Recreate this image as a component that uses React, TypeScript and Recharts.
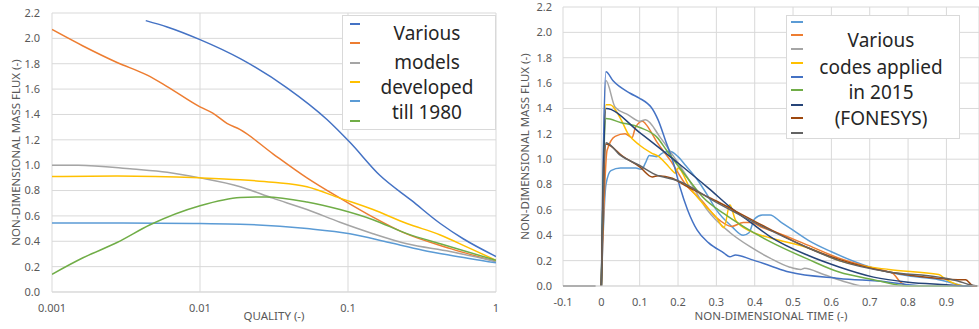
import React from 'react';
import { LineChart, Line, XAxis, YAxis, CartesianGrid, Legend } from 'recharts';

type Pt = [number, number | null];

// ---------- axis ticks ----------
const qualityTicks = [0.001, 0.01, 0.1, 1];
const fluxTicks = [0, 0.2, 0.4, 0.6, 0.8, 1.0, 1.2, 1.4, 1.6, 1.8, 2.0, 2.2];
const timeTicks = [-0.1, 0, 0.1, 0.2, 0.3, 0.4, 0.5, 0.6, 0.7, 0.8, 0.9];

// ---------- legend texts ----------
const modelLegendText = ['Various', 'models', 'developed', 'till 1980'];
const codeLegendText = ['Various', 'codes applied', 'in 2015', '(FONESYS)'];

// ---------- left chart: models developed till 1980 (x = quality) ----------
const model1: Pt[] = [[0.0043, 2.14], [0.006, 2.09], [0.01, 1.99], [0.0187, 1.84], [0.0387, 1.61], [0.0721, 1.36], [0.103, 1.18], [0.164, 0.92], [0.27, 0.72], [0.42, 0.54], [0.6, 0.42], [1, 0.28]];
const model2: Pt[] = [[0.001, 2.07], [0.00162, 1.94], [0.00275, 1.81], [0.0044, 1.71], [0.006, 1.62], [0.01, 1.46], [0.0122, 1.41], [0.0152, 1.33], [0.0187, 1.28], [0.0311, 1.09], [0.0528, 0.9], [0.0883, 0.74], [0.1475, 0.59], [0.2355, 0.47], [0.5, 0.34], [1, 0.24]];
const model3: Pt[] = [[0.001, 1.0], [0.0015, 1.0], [0.0035, 0.97], [0.006, 0.945], [0.01, 0.9], [0.0187, 0.83], [0.031, 0.74], [0.0528, 0.65], [0.0883, 0.55], [0.1475, 0.46], [0.25, 0.38], [0.489, 0.32], [1, 0.24]];
const model4: Pt[] = [[0.001, 0.91], [0.00275, 0.915], [0.01, 0.9], [0.0187, 0.885], [0.031, 0.865], [0.0528, 0.83], [0.0883, 0.74], [0.1475, 0.65], [0.25, 0.54], [0.42, 0.45], [0.65, 0.35], [1, 0.25]];
const model5: Pt[] = [[0.001, 0.545], [0.003, 0.545], [0.01, 0.54], [0.0187, 0.535], [0.0528, 0.5], [0.103, 0.46], [0.19, 0.39], [0.32, 0.33], [0.489, 0.29], [1, 0.23]];
const model6: Pt[] = [[0.001, 0.14], [0.00162, 0.27], [0.00275, 0.39], [0.0046, 0.53], [0.01, 0.68], [0.0187, 0.745], [0.028, 0.75], [0.0528, 0.71], [0.0883, 0.65], [0.1475, 0.57], [0.25, 0.46], [0.42, 0.38], [1, 0.25]];

// ---------- right chart: codes applied in 2015 (x = time) ----------
const code1: Pt[] = [[0, 0], [0.012, 0.8], [0.025, 0.91], [0.05, 0.93], [0.09, 0.93], [0.105, 0.92], [0.115, 0.97], [0.125, 1.03], [0.145, 1.02], [0.16, 1.05], [0.18, 1.06], [0.2, 1.02], [0.22, 0.95], [0.25, 0.84], [0.28, 0.7], [0.3, 0.6], [0.34, 0.47], [0.37, 0.4], [0.385, 0.42], [0.4, 0.53], [0.42, 0.56], [0.44, 0.56], [0.47, 0.5], [0.5, 0.44], [0.54, 0.36], [0.6, 0.27], [0.7, 0.15], [0.8, 0.08], [0.88, 0.05], [0.92, 0.02], [0.95, 0], [0.98, 0]];
const code2: Pt[] = [[0, 0], [0.015, 1.07], [0.036, 1.18], [0.062, 1.2], [0.08, 1.17], [0.089, 1.25], [0.107, 1.3], [0.115, 1.28], [0.146, 1.13], [0.18, 0.99], [0.22, 0.8], [0.26, 0.68], [0.3, 0.54], [0.34, 0.47], [0.37, 0.5], [0.39, 0.5], [0.42, 0.46], [0.45, 0.43], [0.54, 0.32], [0.62, 0.22], [0.71, 0.14], [0.76, 0.1], [0.78, 0.03], [0.8, 0], [0.98, 0]];
const code3: Pt[] = [[0, 0], [0.012, 1.62], [0.036, 1.41], [0.07, 1.35], [0.1, 1.3], [0.115, 1.31], [0.154, 1.17], [0.2, 0.97], [0.23, 0.83], [0.276, 0.6], [0.336, 0.42], [0.388, 0.31], [0.44, 0.22], [0.49, 0.15], [0.52, 0.13], [0.53, 0.14], [0.58, 0.09], [0.64, 0.03], [0.68, 0], [0.98, 0]];
const code4: Pt[] = [[0, 0], [0.012, 1.43], [0.023, 1.43], [0.05, 1.32], [0.07, 1.2], [0.1, 1.11], [0.13, 1.05], [0.15, 1.02], [0.17, 0.96], [0.185, 0.91], [0.193, 0.89], [0.2, 0.93], [0.23, 0.78], [0.265, 0.65], [0.3, 0.54], [0.32, 0.46], [0.335, 0.64], [0.35, 0.52], [0.39, 0.43], [0.44, 0.38], [0.54, 0.3], [0.62, 0.2], [0.75, 0.13], [0.88, 0.09], [0.9, 0.05], [0.95, 0], [0.98, 0]];
const code5: Pt[] = [[0, 0], [0.012, 1.69], [0.03, 1.62], [0.075, 1.52], [0.1, 1.48], [0.12, 1.44], [0.13, 1.41], [0.148, 1.31], [0.167, 1.15], [0.19, 0.95], [0.205, 0.78], [0.225, 0.6], [0.25, 0.44], [0.28, 0.34], [0.32, 0.26], [0.335, 0.23], [0.35, 0.245], [0.39, 0.21], [0.44, 0.16], [0.49, 0.11], [0.62, 0.06], [0.75, 0.03], [0.8, 0.01], [0.85, 0], [0.98, 0]];
const code6: Pt[] = [[0, 0], [0.012, 1.32], [0.05, 1.29], [0.1, 1.25], [0.146, 1.17], [0.17, 1.07], [0.23, 0.83], [0.265, 0.7], [0.32, 0.57], [0.37, 0.47], [0.44, 0.35], [0.54, 0.21], [0.62, 0.11], [0.71, 0.05], [0.8, 0], [0.98, 0]];
const code7: Pt[] = [[0, 0], [0.012, 1.4], [0.1, 1.21], [0.2, 0.97], [0.28, 0.77], [0.345, 0.6], [0.39, 0.5], [0.44, 0.39], [0.54, 0.24], [0.62, 0.15], [0.71, 0.07], [0.8, 0.03], [0.9, 0.01], [0.95, 0], [0.98, 0]];
const code8: Pt[] = [[0, 0], [0.012, 1.12], [0.057, 1.02], [0.1, 0.94], [0.133, 0.86], [0.148, 0.87], [0.185, 0.85], [0.22, 0.79], [0.3, 0.67], [0.4, 0.51], [0.54, 0.3], [0.62, 0.21], [0.75, 0.11], [0.88, 0.06], [0.93, 0.05], [0.95, 0.05], [0.97, 0], [0.98, 0]];
const code9: Pt[] = [[-0.1, 0], [-0.015, 0], [-0.008, null], [0, 0], [0.012, 1.13], [0.05, 1.03], [0.1, 0.95], [0.14, 0.88], [0.2, 0.83], [0.3, 0.66], [0.4, 0.5], [0.54, 0.3], [0.62, 0.2], [0.75, 0.11], [0.88, 0.07], [0.93, 0.04], [0.96, 0.01], [0.98, 0]];

const toRows = (pts: Pt[]) => pts.map(([x, y]) => ({ x, y }));

const modelSeries = [
  { name: 'Model 1', color: '#4472C4', points: model1 },
  { name: 'Model 2', color: '#ED7D31', points: model2 },
  { name: 'Model 3', color: '#A5A5A5', points: model3 },
  { name: 'Model 4', color: '#FFC000', points: model4 },
  { name: 'Model 5', color: '#5B9BD5', points: model5 },
  { name: 'Model 6', color: '#70AD47', points: model6 },
];

const codeSeries = [
  { name: 'Code 1', color: '#5B9BD5', points: code1 },
  { name: 'Code 2', color: '#ED7D31', points: code2 },
  { name: 'Code 3', color: '#A5A5A5', points: code3 },
  { name: 'Code 4', color: '#FFC000', points: code4 },
  { name: 'Code 5', color: '#4472C4', points: code5 },
  { name: 'Code 6', color: '#70AD47', points: code6 },
  { name: 'Code 7', color: '#264478', points: code7 },
  { name: 'Code 8', color: '#9E480E', points: code8 },
  { name: 'Code 9', color: '#636363', points: code9 },
];

const fontFamily = '"Noto Sans", sans-serif';
const axisColor = '#595959';
const gridColor = '#d9d9d9';

const tickStyle = { fill: axisColor, fontSize: 11, fontFamily };

const makeYTitle = (text: string, dx: number) => (props: any) => {
  const vb = props && props.viewBox ? props.viewBox : { x: 0, y: 0, width: 0, height: 0 };
  const cx = vb.x + dx;
  const cy = vb.y + vb.height / 2;
  return (
    <text x={cx} y={cy} transform={`rotate(-90 ${cx} ${cy})`} textAnchor="middle" dominantBaseline="central" fill={axisColor} fontSize={11.5} fontFamily={fontFamily}>
      {text}
    </text>
  );
};

type LegendOpts = {
  width: number;
  height: number;
  lineX: number;
  lineW: number;
  rows: number[];
  textX: number;
  textY: number[];
  text: string[];
  colors: string[];
};

const makeLegend = (o: LegendOpts) => () => (
  <div style={{ position: 'relative', width: o.width, height: o.height, border: `1px solid ${gridColor}`, background: '#fff', boxSizing: 'border-box', fontFamily }}>
    {o.colors.map((c, i) => (
      <div key={'l' + i} style={{ position: 'absolute', left: o.lineX - 1, top: o.rows[i] - 2, width: o.lineW, height: 2, background: c }} />
    ))}
    {o.text.map((t, i) => (
      <div key={'t' + i} style={{ position: 'absolute', left: o.textX - 101, top: o.textY[i] - 13.5, width: 200, height: 25, lineHeight: '25px', textAlign: 'center', fontSize: 19, color: '#262626', whiteSpace: 'nowrap' }}>
        {t}
      </div>
    ))}
  </div>
);

const fmt1 = (v: number) => v.toFixed(1);
const fmtTime = (v: number) => String(Math.round(v * 10) / 10);

export default function App() {
  return (
    <div style={{ position: 'absolute', left: 0, top: 0, width: 979, height: 329, overflow: 'hidden', background: '#fff' }}>
      <div style={{ position: 'absolute', left: 0, top: 0 }}>
        <LineChart width={500} height={329} margin={{ top: 13, right: 4, left: 0, bottom: 0 }} style={{ fontFamily }}>
          <CartesianGrid stroke={gridColor} />
          <XAxis
            type="number"
            dataKey="x"
            scale="log"
            domain={[0.001, 1]}
            ticks={qualityTicks}
            allowDataOverflow
            height={37}
            tickLine={false}
            axisLine={{ stroke: gridColor }}
            tick={tickStyle}
            tickMargin={6}
            label={{ value: 'QUALITY (-)', position: 'insideBottom', offset: 9, fill: axisColor, fontSize: 11.5, fontFamily }}
          />
          <YAxis
            type="number"
            domain={[0, 2.2]}
            ticks={fluxTicks}
            width={52}
            tickLine={false}
            axisLine={false}
            tick={tickStyle}
            tickFormatter={fmt1}
            tickMargin={6}
            label={{ content: makeYTitle('NON-DIMENSIONAL MASS FLUX (-)', 15) }}
          />
          {modelSeries.map((s) => (
            <Line key={s.name} name={s.name} data={toRows(s.points)} dataKey="y" type="monotone" stroke={s.color} strokeWidth={1.5} dot={false} activeDot={false} isAnimationActive={false} />
          ))}
          <Legend
            layout="vertical"
            align="center"
            verticalAlign="middle"
            wrapperStyle={{ left: 342, top: 15, width: 154, height: 115 }}
            content={makeLegend({
              width: 154,
              height: 115,
              lineX: 8,
              lineW: 10,
              rows: [9, 28, 48, 67, 86, 106],
              textX: 85,
              textY: [18, 47, 72, 97],
              text: modelLegendText,
              colors: modelSeries.map((s) => s.color),
            })}
          />
        </LineChart>
      </div>
      <div style={{ position: 'absolute', left: 500, top: 0 }}>
        <LineChart width={479} height={329} margin={{ top: 7, right: 0, left: 0, bottom: 0 }} style={{ fontFamily }}>
          <CartesianGrid stroke={gridColor} />
          <XAxis
            type="number"
            dataKey="x"
            domain={[-0.1, 0.985]}
            ticks={timeTicks}
            allowDataOverflow
            height={43}
            tickLine={false}
            axisLine={{ stroke: gridColor }}
            tick={tickStyle}
            tickFormatter={fmtTime}
            tickMargin={6}
            label={{ value: 'NON-DIMENSIONAL TIME (-)', position: 'insideBottom', offset: 9, fill: axisColor, fontSize: 11.5, fontFamily }}
          />
          <YAxis
            type="number"
            domain={[0, 2.2]}
            ticks={fluxTicks}
            width={63}
            tickLine={false}
            axisLine={false}
            tick={tickStyle}
            tickFormatter={fmt1}
            tickMargin={5}
            label={{ content: makeYTitle('NON-DIMENSIONAL MASS FLUX (-)', 24) }}
          />
          {codeSeries.map((s) => (
            <Line key={s.name} name={s.name} data={toRows(s.points)} dataKey="y" type="monotone" stroke={s.color} strokeWidth={1.5} dot={false} activeDot={false} connectNulls={false} isAnimationActive={false} />
          ))}
          <Legend
            layout="vertical"
            align="center"
            verticalAlign="middle"
            wrapperStyle={{ left: 286, top: 15, width: 174, height: 124 }}
            content={makeLegend({
              width: 174,
              height: 124,
              lineX: 5,
              lineW: 12,
              rows: [7, 20, 34, 48, 62, 75, 90, 103, 118],
              textX: 95,
              textY: [25, 52, 77, 103],
              text: codeLegendText,
              colors: codeSeries.map((s) => s.color),
            })}
          />
        </LineChart>
      </div>
    </div>
  );
}
